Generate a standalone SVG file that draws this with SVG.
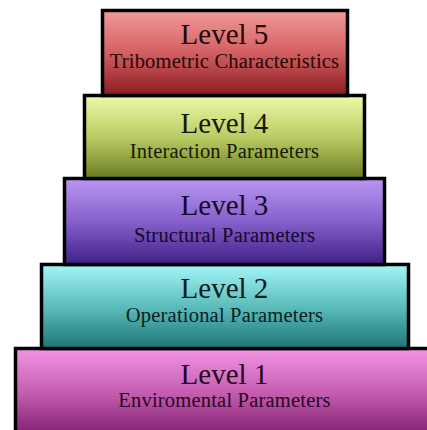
<svg xmlns="http://www.w3.org/2000/svg" width="427" height="430" viewBox="0 0 427 430">
  <defs>
    <linearGradient id="g5" x1="0" y1="0" x2="0" y2="1">
      <stop offset="0" stop-color="#f29a9a"/>
      <stop offset="0.5" stop-color="#d25f62"/>
      <stop offset="1" stop-color="#8a1c20"/>
    </linearGradient>
    <linearGradient id="g4" x1="0" y1="0" x2="0" y2="1">
      <stop offset="0" stop-color="#eefaa8"/>
      <stop offset="0.5" stop-color="#b9cc63"/>
      <stop offset="1" stop-color="#6a7c22"/>
    </linearGradient>
    <linearGradient id="g3" x1="0" y1="0" x2="0" y2="1">
      <stop offset="0" stop-color="#bb97f2"/>
      <stop offset="0.5" stop-color="#8560cc"/>
      <stop offset="1" stop-color="#3f1f86"/>
    </linearGradient>
    <linearGradient id="g2" x1="0" y1="0" x2="0" y2="1">
      <stop offset="0" stop-color="#a4f6f6"/>
      <stop offset="0.5" stop-color="#5cbcbc"/>
      <stop offset="1" stop-color="#1d7676"/>
    </linearGradient>
    <linearGradient id="g1" x1="0" y1="0" x2="0" y2="1">
      <stop offset="0" stop-color="#f494e4"/>
      <stop offset="0.5" stop-color="#c45cb0"/>
      <stop offset="1" stop-color="#7c1a6c"/>
    </linearGradient>
  </defs>
  <style>
    .box { stroke: #000; stroke-width: 3.5; }
    .title { font-family: "Liberation Serif", "DejaVu Serif", serif; font-size: 29px; text-anchor: middle; }
    .sub { font-family: "Liberation Serif", "DejaVu Serif", serif; font-size: 20.5px; letter-spacing: 0.2px; text-anchor: middle; }
  </style>
  <rect width="427" height="430" fill="#ffffff"/>

  <g id="level1">
    <rect class="box" x="15.5" y="348.5" width="420" height="90" fill="url(#g1)"/>
    <text class="title" x="224.5" y="384" fill="#26081f">Level 1</text>
    <text class="sub" x="224.5" y="407" fill="#26081f">Enviromental Parameters</text>
  </g>

  <g id="level2">
    <rect class="box" x="41.5" y="264.5" width="367" height="84" fill="url(#g2)"/>
    <text class="title" x="224.5" y="298" fill="#081e1e">Level 2</text>
    <text class="sub" x="224.5" y="322" fill="#081e1e">Operational Parameters</text>
  </g>

  <g id="level3">
    <rect class="box" x="64.5" y="178.5" width="320" height="86" fill="url(#g3)"/>
    <text class="title" x="224.5" y="215" fill="#150828">Level 3</text>
    <text class="sub" x="224.5" y="242" fill="#150828">Structural Parameters</text>
  </g>

  <g id="level4">
    <rect class="box" x="84.5" y="95.5" width="280" height="83" fill="url(#g4)"/>
    <text class="title" x="224.5" y="133" fill="#161906">Level 4</text>
    <text class="sub" x="224.5" y="158" fill="#161906">Interaction Parameters</text>
  </g>

  <g id="level5">
    <rect class="box" x="102.5" y="10.5" width="245" height="85" fill="url(#g5)"/>
    <text class="title" x="224.5" y="44" fill="#260606">Level 5</text>
    <text class="sub" x="224.5" y="68" fill="#260606">Tribometric Characteristics</text>
  </g>
</svg>
